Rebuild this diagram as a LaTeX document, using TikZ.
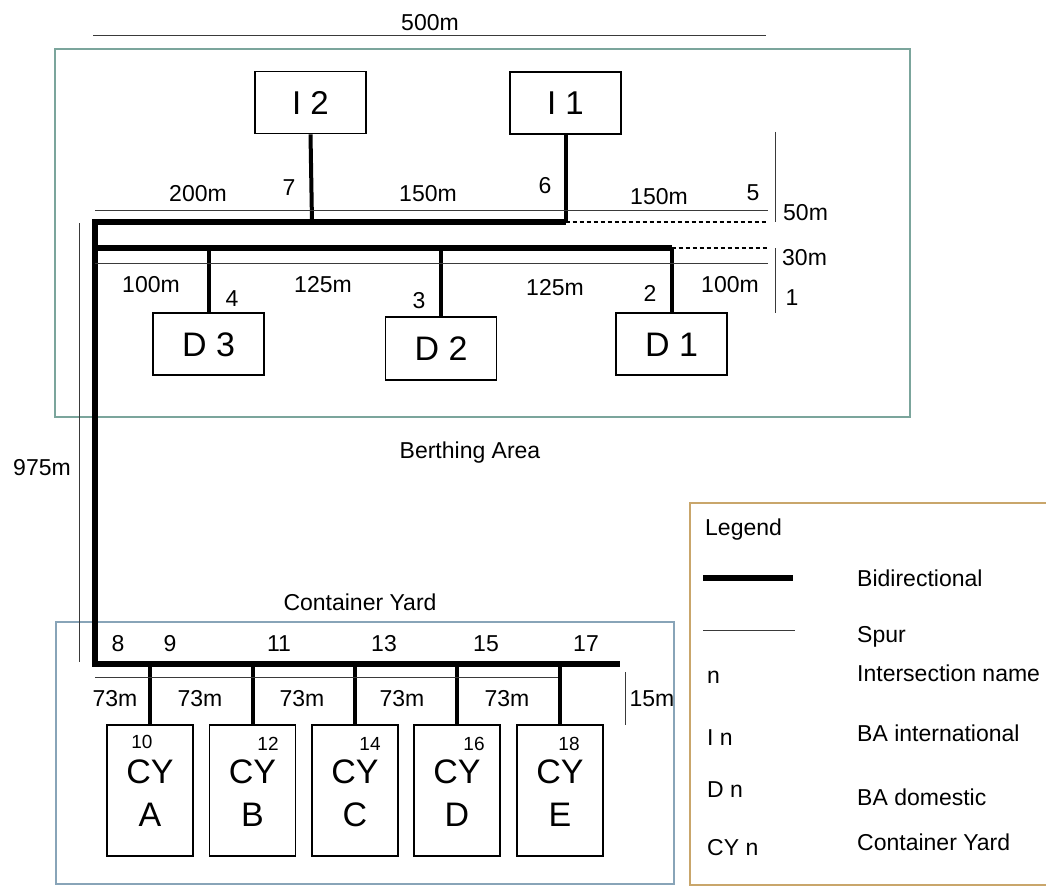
\documentclass[tikz,border=0pt]{standalone}
\usepackage{fontspec}
\setmainfont{Liberation Sans}
\definecolor{bacol}{HTML}{7BA59C}
\definecolor{cycol}{HTML}{88A4B8}
\definecolor{legcol}{HTML}{C9A66B}
\definecolor{thincol}{HTML}{3A3A3A}
\begin{document}
\begin{tikzpicture}[x=1pt,y=-1pt,
  lbl/.style={inner sep=0pt, text height=16.5pt, text depth=0pt, font=\fontsize{23}{27}\selectfont},
  leglbl/.style={inner sep=0pt, text height=16.5pt, text depth=0pt, anchor=west, font=\fontsize{23}{27}\selectfont},
  smallnum/.style={inner sep=0pt, text height=13.7pt, text depth=0pt, font=\fontsize{19}{23}\selectfont},
  bbox/.style={draw=black, line width=1.6pt, inner sep=0pt, minimum width=111pt, minimum height=62pt, text height=23.5pt, text depth=0pt, font=\fontsize{33}{36}\selectfont},
  cybox/.style={draw=black, line width=1.6pt, inner sep=0pt, minimum width=86pt, minimum height=131pt, align=center, font=\fontsize{34}{43}\selectfont},
  cytext/.style={inner sep=0pt, align=center, font=\fontsize{34}{43}\selectfont},
  bidir/.style={line width=5.5pt, line join=miter},
  stem/.style={line width=4pt},
  spur/.style={line width=0.9pt, draw=thincol},
  dashline/.style={line width=1.4pt, dash pattern=on 4pt off 3pt},
  area/.style={line width=1.5pt}
]
\useasboundingbox[fill=white] (0,0) rectangle (1046,888);

% areas
\draw[area, draw=bacol] (55,49) rectangle (910,417);
\draw[area, draw=cycol] (56,622) rectangle (674,884);
\begin{scope}
\clip (0,0) rectangle (1046,888);
\draw[area, draw=legcol] (690,503) rectangle (1070,885);
\end{scope}

% area labels
\node[lbl] (balbl) at (470,450) {Berthing Area};
\node[lbl] (cylbl) at (360,602) {Container Yard};

% boxes
\node[bbox] (I2) at (310.5,102.5) {I 2};
\node[bbox] (I1) at (565.5,103) {I 1};
\node[bbox, font=\fontsize{34}{36}\selectfont, text height=24.5pt] (D3) at (208.5,344) {D 3};
\node[bbox, font=\fontsize{34}{36}\selectfont, text height=24.5pt, minimum height=63pt] (D2) at (441,348.5) {D 2};
\node[bbox, font=\fontsize{34}{36}\selectfont, text height=24.5pt] (D1) at (671.5,344) {D 1};

\node[cybox] (CYA) at (150,790.5) {};
\node[cybox] (CYB) at (252.5,790.5) {};
\node[cybox] (CYC) at (355,790.5) {};
\node[cybox] (CYD) at (457,790.5) {};
\node[cybox] (CYE) at (560,790.5) {};
\node[cytext] (CYAt) at (150,793) {CY\\A};
\node[cytext] (CYBt) at (252.5,793) {CY\\B};
\node[cytext] (CYCt) at (355,793) {CY\\C};
\node[cytext] (CYDt) at (457,793) {CY\\D};
\node[cytext] (CYEt) at (560,793) {CY\\E};

% junction coordinates
\coordinate (j7) at (312,222);
\coordinate (j6) at (565.5,222);
\coordinate (c1) at (95,222);
\coordinate (c2) at (95,248);
\coordinate (c8) at (95,664);
\coordinate (j4) at (208.5,248);
\coordinate (j3) at (441,248);
\coordinate (j2) at (671.5,248);
\coordinate (e5) at (768,222);
\coordinate (e1) at (768,248);
\coordinate (j9) at (150,664);
\coordinate (j11) at (252.5,664);
\coordinate (j13) at (355,664);
\coordinate (j15) at (457,664);
\coordinate (j17) at (560,664);
\coordinate (cyend) at (620,664);

% bidirectional network
\draw[bidir] (j6) -- (c1) -- (c8) -- (cyend);
\draw[bidir] (c2) -- (j2);
\draw[stem] (I2.south) -- (j7);
\draw[stem] (I1.south) -- (j6);
\draw[stem] (j2) -- (D1.north);
\draw[stem] (j4) -- (D3.north);
\draw[stem] (j3) -- (D2.north);
\draw[stem] (j9) -- (CYA.north);
\draw[stem] (j11) -- (CYB.north);
\draw[stem] (j13) -- (CYC.north);
\draw[stem] (j15) -- (CYD.north);
\draw[stem] (j17) -- (CYE.north);

% dashed continuations
\draw[dashline] (j6) -- (e5);
\draw[dashline] (j2) -- (e1);

% spur / dimension lines
\coordinate (s1a) at (95,210); \coordinate (s1b) at (768,210);
\coordinate (s2a) at (95,263); \coordinate (s2b) at (768,263);
\coordinate (s3a) at (95,677); \coordinate (s3b) at (558,677);
\draw[spur] (s1a) -- (s1b);
\draw[spur] (s2a) -- (s2b);
\draw[spur] (s3a) -- (s3b);
\coordinate (d500a) at (93,35); \coordinate (d500b) at (766,35);
\draw[spur] (d500a) -- (d500b);
\coordinate (d50a) at (775,132); \coordinate (d50b) at (775,222);
\draw[spur] (d50a) -- (d50b);
\coordinate (d30a) at (775,248); \coordinate (d30b) at (775,313);
\draw[spur] (d30a) -- (d30b);
\coordinate (d15a) at (625,672); \coordinate (d15b) at (625,725);
\draw[spur] (d15a) -- (d15b);
\coordinate (d975a) at (79,223); \coordinate (d975b) at (79,662);
\draw[spur] (d975a) -- (d975b);

% distance labels
\node[lbl] (t500) at (430,22) {500m};
\node[lbl] (t200) at (198,193) {200m};
\node[lbl] (t150a) at (428,193) {150m};
\node[lbl] (t150b) at (659,196) {150m};
\node[lbl, anchor=west] (t50) at (783,212) {50m};
\node[lbl, anchor=west] (t30) at (782,257) {30m};
\node[lbl] (t1) at (792,297) {1};
\node[lbl] (t100a) at (151,284) {100m};
\node[lbl] (t125a) at (323,284) {125m};
\node[lbl] (t125b) at (555,287) {125m};
\node[lbl] (t100b) at (730,284) {100m};
\node[lbl] (t975) at (42,467) {975m};
\node[lbl] (t73a) at (115,698) {73m};
\node[lbl] (t73b) at (200,698) {73m};
\node[lbl] (t73c) at (302,698) {73m};
\node[lbl] (t73d) at (402,698) {73m};
\node[lbl] (t73e) at (507,698) {73m};
\node[lbl] (t15) at (652,698) {15m};

% intersection names
\node[lbl] (n7) at (289,187) {7};
\node[lbl] (n6) at (545,185) {6};
\node[lbl] (n5) at (753,192) {5};
\node[lbl] (n4) at (232,298) {4};
\node[lbl] (n3) at (419,300) {3};
\node[lbl] (n2) at (650,293) {2};
\node[lbl] (n8) at (118,643) {8};
\node[lbl] (n9) at (170,643) {9};
\node[lbl] (n11) at (279,643) {11};
\node[lbl] (n13) at (384,643) {13};
\node[lbl] (n15) at (486,643) {15};
\node[lbl] (n17) at (586,643) {17};
\node[smallnum] (n10) at (142,742) {10};
\node[smallnum] (n12) at (268,744) {12};
\node[smallnum] (n14) at (370,744) {14};
\node[smallnum] (n16) at (474,744) {16};
\node[smallnum] (n18) at (569,744) {18};

% legend
\node[leglbl] (legt) at (705,527) {Legend};
\coordinate (lb1) at (703,578); \coordinate (lb2) at (793,578);
\draw[line width=6pt] (lb1) -- (lb2);
\node[leglbl] (lbt) at (857,578) {Bidirectional};
\coordinate (ls1) at (703,630); \coordinate (ls2) at (795,630);
\draw[spur] (ls1) -- (ls2);
\node[leglbl] (lst) at (857,634) {Spur};
\node[leglbl] (lnk) at (707,675) {n};
\node[leglbl] (lnt) at (857,673) {Intersection name};
\node[leglbl] (lik) at (707,737) {I n};
\node[leglbl] (lit) at (857,733) {BA international};
\node[leglbl] (ldk) at (707,789) {D n};
\node[leglbl] (ldt) at (857,797) {BA domestic};
\node[leglbl] (lck) at (707,847) {CY n};
\node[leglbl] (lct) at (857,842) {Container Yard};
\end{tikzpicture}
\end{document}
